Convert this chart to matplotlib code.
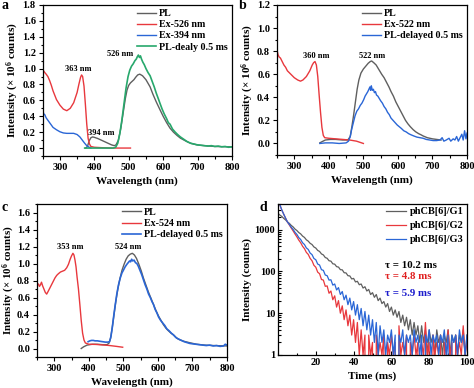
import numpy as np
import matplotlib
matplotlib.use("Agg")
import matplotlib.pyplot as plt
from matplotlib.ticker import MultipleLocator, FixedLocator, LogLocator, NullFormatter

plt.rcParams['font.family'] = ['Liberation Serif', 'DejaVu Serif']
plt.rcParams['font.weight'] = 'bold'
plt.rcParams['axes.labelweight'] = 'bold'
plt.rcParams['mathtext.fontset'] = 'custom'
plt.rcParams['mathtext.rm'] = 'Liberation Serif:bold'
plt.rcParams['mathtext.bf'] = 'Liberation Serif:bold'
plt.rcParams['mathtext.default'] = 'rm'

# ---------------- Panel a ----------------
a_ex526_wl = [250, 253, 256, 260, 265, 270, 275, 280, 290, 300, 310, 320, 330, 340, 350, 355, 360, 363, 366,
              370, 374, 378, 382, 386, 390, 400, 420, 450, 480, 505]
a_ex526 = [0.92, 0.97, 0.95, 0.93, 0.90, 0.85, 0.79, 0.72, 0.61, 0.54, 0.49, 0.47, 0.50, 0.57, 0.70, 0.80,
           0.89, 0.92, 0.90, 0.78, 0.55, 0.30, 0.12, 0.05, 0.02, 0.01, 0.005, 0.0, 0.0, 0.0]
a_ex394_wl = [250, 253, 256, 260, 265, 270, 275, 280, 290, 300, 310, 320, 330, 340, 350, 358, 365, 372, 378, 385, 390]
a_ex394 = [0.48, 0.43, 0.42, 0.38, 0.35, 0.32, 0.29, 0.26, 0.23, 0.205, 0.19, 0.185, 0.185, 0.185, 0.17,
           0.14, 0.10, 0.06, 0.03, 0.01, 0.0]
a_pl_wl = [375, 380, 385, 390, 395, 400, 410, 420, 430, 440, 450, 458, 463, 470, 477, 484, 490, 495, 500, 505,
           510, 515, 520, 526, 532, 540, 550, 562, 570, 580, 591, 600, 610, 620, 630, 640, 650, 665, 680, 698,
           720, 750, 800]
a_pl = [0.0, 0.02, 0.09, 0.13, 0.14, 0.135, 0.12, 0.10, 0.08, 0.06, 0.04, 0.03, 0.04, 0.10, 0.25, 0.45, 0.62,
        0.73, 0.79, 0.82, 0.84, 0.86, 0.89, 0.92, 0.93, 0.91, 0.86, 0.77, 0.68, 0.58, 0.48, 0.40, 0.32, 0.25,
        0.20, 0.16, 0.125, 0.09, 0.06, 0.04, 0.03, 0.02, 0.015]
a_del_wl = [372, 400, 430, 455, 462, 468, 474, 480, 486, 492, 498, 503, 508, 513, 518, 522, 525, 528, 531, 534,
            537, 541, 545, 550, 556, 562, 568, 574, 580, 586, 591, 597, 603, 610, 615, 620, 627, 635, 642, 650,
            660, 670, 680, 690, 700, 710, 720, 730, 740, 750, 760, 770, 780, 790, 800]
a_del = [0.0, 0.0, 0.0, 0.0, 0.01, 0.06, 0.18, 0.35, 0.55, 0.75, 0.90, 0.98, 1.03, 1.06, 1.10, 1.12, 1.15,
         1.17, 1.14, 1.16, 1.12, 1.08, 1.05, 1.00, 0.95, 0.91, 0.84, 0.77, 0.69, 0.62, 0.56, 0.49, 0.43, 0.37,
         0.32, 0.30, 0.24, 0.20, 0.17, 0.14, 0.11, 0.08, 0.06, 0.05, 0.04, 0.035, 0.03, 0.025, 0.03, 0.02,
         0.025, 0.015, 0.02, 0.01, 0.015]

# ---------------- Panel b ----------------
b_ex_wl = [250, 253, 256, 260, 265, 270, 275, 280, 290, 300, 310, 318, 325, 335, 345, 352, 356, 360, 364, 368,
           372, 376, 380, 384, 388, 400, 420, 440, 460, 480, 500]
b_ex = [0.81, 0.77, 0.75, 0.74, 0.71, 0.68, 0.66, 0.63, 0.60, 0.57, 0.55, 0.54, 0.55, 0.58, 0.63, 0.68, 0.70,
        0.71, 0.68, 0.58, 0.42, 0.27, 0.14, 0.07, 0.05, 0.045, 0.04, 0.035, 0.03, 0.02, 0.0]
b_pl_wl = [374, 380, 390, 405, 420, 440, 455, 462, 467, 472, 477, 482, 487, 493, 500, 507, 514, 520, 524, 530,
           537, 545, 553, 560, 567, 574, 580, 587, 594, 601, 608, 615, 622, 629, 636, 644, 652, 660, 667, 673,
           685, 700, 712, 725]
b_pl = [0.005, 0.015, 0.03, 0.035, 0.035, 0.03, 0.03, 0.06, 0.15, 0.25, 0.36, 0.47, 0.55, 0.61, 0.645, 0.67,
        0.695, 0.71, 0.715, 0.70, 0.68, 0.64, 0.60, 0.57, 0.53, 0.49, 0.45, 0.41, 0.36, 0.32, 0.28, 0.24, 0.20,
        0.17, 0.145, 0.12, 0.10, 0.085, 0.075, 0.065, 0.05, 0.04, 0.035, 0.03]
b_del_wl = [374, 390, 410, 430, 450, 457, 462, 466, 471, 476, 481, 486, 491, 496, 501, 505, 509, 513, 516, 519,
            521, 523, 526, 529, 532, 535, 538, 542, 546, 550, 555, 560, 565, 570, 575, 580, 586, 592, 598, 604,
            610, 617, 624, 631, 638, 646, 655, 664, 673, 682, 692, 702, 712, 722, 728, 733, 740, 748, 753, 760,
            765, 770, 775, 780, 785, 789, 793, 797, 800]
b_del = [0.0, 0.005, 0.005, 0.0, 0.005, 0.02, 0.06, 0.12, 0.18, 0.24, 0.28, 0.30, 0.33, 0.35, 0.38, 0.41, 0.43,
         0.45, 0.47, 0.49, 0.46, 0.50, 0.46, 0.47, 0.44, 0.45, 0.42, 0.41, 0.39, 0.37, 0.35, 0.32, 0.30, 0.27,
         0.25, 0.22, 0.20, 0.18, 0.16, 0.145, 0.13, 0.11, 0.10, 0.085, 0.075, 0.065, 0.055, 0.05, 0.045, 0.035,
         0.03, 0.025, 0.025, 0.03, 0.05, 0.02, 0.03, 0.045, 0.02, 0.04, 0.03, 0.06, 0.02, 0.05, 0.08, 0.03, 0.11,
         0.04, 0.09]

# ---------------- Panel c ----------------
c_ex_wl = [250, 254, 257, 260, 263, 266, 270, 274, 278, 282, 287, 292, 297, 302, 307, 312, 318, 324, 330, 336,
           341, 346, 350, 354, 357, 360, 363, 366, 370, 374, 378, 382, 386, 390, 400, 420, 440, 460, 480, 498]
c_ex = [0.74, 0.76, 0.73, 0.75, 0.78, 0.74, 0.70, 0.66, 0.64, 0.67, 0.71, 0.75, 0.79, 0.83, 0.86, 0.88, 0.90,
        0.91, 0.92, 0.95, 0.99, 1.05, 1.09, 1.12, 1.10, 1.04, 0.96, 0.84, 0.70, 0.52, 0.33, 0.18, 0.10, 0.065,
        0.05, 0.048, 0.042, 0.035, 0.025, 0.015]
c_pl_wl = [378, 385, 395, 410, 425, 440, 452, 458, 463, 468, 473, 478, 484, 490, 496, 502, 508, 514, 520, 526,
           532, 538, 545, 552, 558, 565, 572, 580, 587, 595, 602, 609, 616, 623, 630, 638, 645, 655, 665, 675,
           690, 712, 735, 760, 800]
c_pl = [0.0, 0.02, 0.04, 0.05, 0.05, 0.045, 0.045, 0.06, 0.12, 0.25, 0.40, 0.55, 0.70, 0.82, 0.92, 0.99, 1.05,
        1.09, 1.11, 1.12, 1.10, 1.06, 0.99, 0.91, 0.83, 0.75, 0.67, 0.59, 0.52, 0.44, 0.38, 0.33, 0.28, 0.24,
        0.21, 0.18, 0.16, 0.12, 0.10, 0.085, 0.07, 0.05, 0.04, 0.035, 0.03]
c_del_wl = [398, 403, 408, 413, 418, 425, 432, 440, 448, 455, 460, 464, 468, 472, 476, 481, 486, 491, 496, 500,
            505, 510, 514, 518, 521, 524, 527, 531, 535, 539, 543, 548, 553, 558, 563, 568, 573, 578, 583, 587,
            592, 597, 602, 608, 614, 620, 626, 632, 639, 645, 652, 660, 668, 676, 684, 692, 700, 710, 720, 730,
            740, 750, 760, 770, 780, 790, 795, 800]
c_del = [0.08, 0.09, 0.095, 0.095, 0.09, 0.09, 0.085, 0.08, 0.075, 0.075, 0.08, 0.14, 0.25, 0.38, 0.50, 0.64,
         0.75, 0.83, 0.89, 0.92, 0.96, 0.99, 1.01, 1.03, 1.02, 1.05, 1.03, 1.04, 1.01, 1.00, 0.97, 0.92, 0.87,
         0.81, 0.75, 0.70, 0.64, 0.60, 0.55, 0.52, 0.46, 0.42, 0.37, 0.33, 0.30, 0.27, 0.23, 0.21, 0.18, 0.16,
         0.13, 0.11, 0.095, 0.08, 0.07, 0.06, 0.055, 0.05, 0.045, 0.04, 0.035, 0.04, 0.03, 0.035, 0.025, 0.03,
         0.05, 0.04]

# ---------------- Panel d (1 ms bins, counts) ----------------
d_g1 = [2450, 2230, 2070, 1860, 1710, 1530, 1410, 1260, 1160, 1030, 950, 850, 790, 700, 650, 570, 530, 470, 440,
        385, 362, 318, 300, 262, 248, 215, 206, 180, 176, 152, 149, 130, 127, 110, 109, 93, 92, 79, 78, 66, 68,
        56, 58, 48, 50, 40, 43, 34, 37, 28, 31, 24, 28, 20, 23, 17, 19, 14, 17, 11, 14, 9, 12, 8, 11, 6, 9, 5,
        8, 4, 7, 3, 6, 3, 5, 2, 5, 2, 4, 1, 4, 2, 3, 1, 4, 2, 3, 1, 3, 2, 4, 1, 3, 2, 3, 1, 3, 2, 4, 1, 3]
d_g2 = [5200, 3900, 2950, 2350, 1880, 1520, 1290, 1090, 930, 785, 670, 560, 485, 400, 350, 285, 255, 205, 180,
        140, 126, 96, 88, 64, 62, 44, 45, 30, 34, 21, 26, 14, 20, 10, 15, 7, 12, 5, 9, 3, 7, 2, 6, 1, 4, 1, 3,
        0, 3, 1, 2, 0, 3, 1, 2, 1, 3, 0, 2, 1, 3, 1, 2, 0, 5, 1, 2, 1, 3, 0, 2, 1, 3, 1, 2, 0, 2, 1, 6, 1, 2, 0,
        3, 1, 2, 1, 3, 0, 2, 1, 4, 1, 2, 0, 3, 1, 2, 1, 5, 1, 2]
d_g3 = [5200, 3900, 2950, 2350, 1880, 1520, 1330, 1140, 1010, 860, 765, 645, 580, 485, 440, 365, 335, 275, 252,
        204, 190, 150, 142, 110, 106, 82, 79, 62, 63, 47, 50, 36, 41, 28, 33, 21, 27, 16, 23, 12, 19, 9, 16, 7,
        13, 5, 11, 4, 9, 3, 7, 2, 6, 1, 5, 2, 4, 1, 3, 2, 4, 1, 3, 0, 3, 2, 4, 1, 3, 2, 3, 1, 4, 2, 3, 1, 3, 0,
        3, 2, 4, 1, 3, 2, 3, 1, 3, 2, 4, 1, 3, 0, 3, 2, 3, 1, 4, 2, 3, 1, 3]

GRAY = '#5f5f5f'
RED = '#e8383d'
BLUE = '#2a66d6'
GREEN = '#27a86c'

W, H = 474, 388
fig = plt.figure(figsize=(W / 100, H / 100), dpi=100)


def ax_px(l, t, r, b):
    return fig.add_axes([l / W, 1 - b / H, (r - l) / W, (b - t) / H])


TICK_FS = 7.5
LAB_FS = 8
LEG_FS = 7.2
ANN_FS = 6


def style_spec(ax, ylim, ylabel, ylab_x, ymaj=0.2):
    ax.set_xlim(250, 800)
    ax.set_ylim(*ylim)
    ax.xaxis.set_major_locator(FixedLocator([300, 400, 500, 600, 700, 800]))
    ax.xaxis.set_minor_locator(MultipleLocator(50))
    ax.yaxis.set_major_locator(MultipleLocator(ymaj))
    ax.yaxis.set_minor_locator(MultipleLocator(ymaj / 2))
    ax.yaxis.set_major_formatter(matplotlib.ticker.FormatStrFormatter('%.1f'))
    ax.tick_params(which='both', direction='out', labelsize=TICK_FS, width=0.8, pad=2)
    ax.tick_params(which='major', length=3)
    ax.tick_params(which='minor', length=1.8)
    for s in ax.spines.values():
        s.set_linewidth(0.9)
    for lab in ax.get_xticklabels() + ax.get_yticklabels():
        lab.set_fontweight('bold')
    ax.set_xlabel('Wavelength (nm)', fontsize=LAB_FS, fontweight='bold', labelpad=3)
    ax.set_ylabel(ylabel, fontsize=LAB_FS, fontweight='bold')
    ax.yaxis.set_label_coords(ylab_x, 0.5)


LW = 1.0

# Panel a
axa = ax_px(42.7, 5, 232, 156)
axa.plot(a_pl_wl, a_pl, color=GRAY, lw=LW, label='PL')
axa.plot(a_ex526_wl, a_ex526, color=RED, lw=LW, label='Ex-526 nm')
axa.plot(a_ex394_wl, a_ex394, color=BLUE, lw=LW, label='Ex-394 nm')
axa.plot(a_del_wl, a_del, color=GREEN, lw=1.2, label='PL-dealy 0.5 ms')
style_spec(axa, (-0.1, 1.8), 'Intentsity (× 10$^{6}$ counts)', -0.117)
axa.legend(loc='upper right', bbox_to_anchor=(1.0, 1.0), frameon=False, fontsize=LEG_FS,
           handlelength=1.9, handletextpad=0.35, labelspacing=0.22, borderaxespad=0.2, borderpad=0.2)
axa.text(352, 0.99, '363 nm', fontsize=ANN_FS, fontweight='bold', ha='center', va='center')
axa.text(420, 0.19, '394 nm', fontsize=ANN_FS, fontweight='bold', ha='center', va='center')
axa.text(475, 1.18, '526 nm', fontsize=ANN_FS, fontweight='bold', ha='center', va='center')

# Panel b
axb = ax_px(277, 5, 467, 155)
axb.plot(b_pl_wl, b_pl, color=GRAY, lw=LW, label='PL')
axb.plot(b_ex_wl, b_ex, color=RED, lw=LW, label='Ex-522 nm')
axb.plot(b_del_wl, b_del, color=BLUE, lw=LW, label='PL-delayed 0.5 ms')
style_spec(axb, (-0.1, 1.2), 'Intensity (× 10$^{6}$ counts)', -0.112)
axb.legend(loc='upper right', bbox_to_anchor=(1.0, 1.0), frameon=False, fontsize=LEG_FS,
           handlelength=1.9, handletextpad=0.35, labelspacing=0.22, borderaxespad=0.2, borderpad=0.2)
axb.text(363, 0.754, '360 nm', fontsize=ANN_FS, fontweight='bold', ha='center', va='center')
axb.text(525, 0.754, '522 nm', fontsize=ANN_FS, fontweight='bold', ha='center', va='center')

# Panel c
axc = ax_px(37, 204, 227, 357)
axc.plot(c_pl_wl, c_pl, color=GRAY, lw=LW, label='PL')
axc.plot(c_ex_wl, c_ex, color=RED, lw=LW, label='Ex-524 nm')
axc.plot(c_del_wl, c_del, color=BLUE, lw=1.2, label='PL-delayed 0.5 ms')
style_spec(axc, (-0.1, 1.7), 'Intensity (× 10$^{6}$ counts)', -0.104)
axc.yaxis.label.set_fontsize(7.8)
axc.legend(loc='upper right', bbox_to_anchor=(1.0, 1.0), frameon=False, fontsize=LEG_FS,
           handlelength=1.9, handletextpad=0.35, labelspacing=0.22, borderaxespad=0.2, borderpad=0.2)
axc.text(347.5, 1.19, '353 nm', fontsize=ANN_FS, fontweight='bold', ha='center', va='center')
axc.text(514, 1.19, '524 nm', fontsize=ANN_FS, fontweight='bold', ha='center', va='center')

# Panel d
axd = ax_px(278, 204, 467, 355)
t1 = np.arange(len(d_g1))
t2 = np.arange(len(d_g2))
t3 = np.arange(len(d_g3))
axd.plot(t1, d_g1, color=GRAY, lw=0.9, label='phCB[6]/G1')
axd.plot(t2, d_g2, color=RED, lw=0.9, label='phCB[6]/G2')
axd.plot(t3, d_g3, color=BLUE, lw=0.9, label='phCB[6]/G3')
axd.set_yscale('log')
axd.set_xlim(0, 100)
axd.set_ylim(1, 4100)
axd.xaxis.set_major_locator(FixedLocator([20, 40, 60, 80, 100]))
axd.xaxis.set_minor_locator(MultipleLocator(10))
axd.yaxis.set_major_locator(FixedLocator([1, 10, 100, 1000]))
axd.yaxis.set_major_formatter(matplotlib.ticker.FuncFormatter(lambda v, p: '%d' % v))
axd.yaxis.set_minor_locator(LogLocator(base=10, subs=np.arange(2, 10)))
axd.yaxis.set_minor_formatter(NullFormatter())
axd.tick_params(which='both', direction='in', labelsize=TICK_FS, width=0.8, pad=2)
axd.tick_params(which='major', length=3)
axd.tick_params(which='minor', length=1.8)
for s in axd.spines.values():
    s.set_linewidth(0.9)
for lab in axd.get_xticklabels() + axd.get_yticklabels():
    lab.set_fontweight('bold')
axd.set_xlabel('Time (ms)', fontsize=LAB_FS, fontweight='bold', labelpad=3)
axd.set_ylabel('Intensity (counts)', fontsize=LAB_FS, fontweight='bold')
axd.yaxis.set_label_coords(-0.135, 0.5)
axd.legend(loc='upper right', bbox_to_anchor=(1.0, 1.0), frameon=False, fontsize=7.5,
           handlelength=2.0, handletextpad=0.35, labelspacing=0.45, borderaxespad=0.1, borderpad=0.2)
axd.text(0.566, 0.596, 'τ = 10.2 ms', transform=axd.transAxes, fontsize=7.8, fontweight='bold',
         color='black', va='center', ha='left')
axd.text(0.566, 0.517, 'τ = 4.8 ms', transform=axd.transAxes, fontsize=7.8, fontweight='bold',
         color='#e02020', va='center', ha='left')
axd.text(0.566, 0.41, 'τ = 5.9 ms', transform=axd.transAxes, fontsize=7.8, fontweight='bold',
         color='#1a1acc', va='center', ha='left')

# panel letters
fig.text(2 / W, 1 + 1 / H, 'a', fontsize=10, fontweight='bold', va='top', ha='left')
fig.text(239 / W, 1 + 1 / H, 'b', fontsize=10, fontweight='bold', va='top', ha='left')
fig.text(2 / W, 1 - 201 / H, 'c', fontsize=10, fontweight='bold', va='top', ha='left')
fig.text(259 / W, 1 - 201 / H, 'd', fontsize=10, fontweight='bold', va='top', ha='left')

fig.savefig('out.png', dpi=100)
